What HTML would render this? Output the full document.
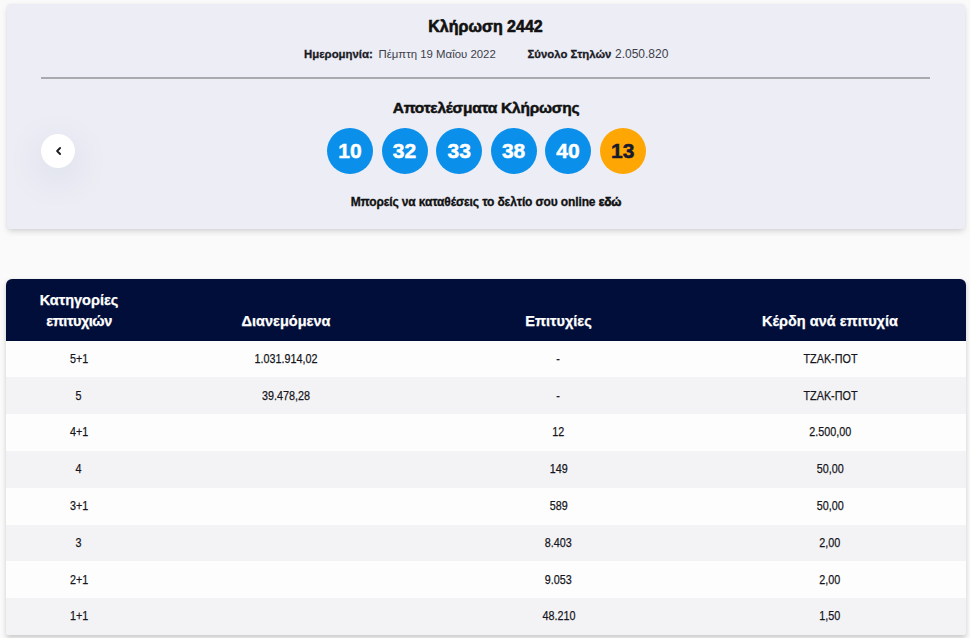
<!DOCTYPE html>
<html><head><meta charset="utf-8">
<style>
html,body{margin:0;padding:0;}
body{width:970px;height:638px;overflow:hidden;background:#fafafa;position:relative;font-family:"Liberation Sans",sans-serif;color:#1a1a2a;}
.abs{position:absolute;white-space:nowrap;}
.card{position:absolute;left:7px;top:4px;width:957.5px;height:225px;background:#ecedf5;border-radius:3px;box-shadow:0 3px 6px -1px rgba(0,0,0,0.17),0 0 3px rgba(0,0,0,0.04);}
.c{text-align:center;}
.title{left:0;width:971px;top:16.8px;font-size:16px;line-height:20px;font-weight:bold;color:#111;-webkit-text-stroke:0.6px #111;}
.sub{top:47.2px;font-size:11.4px;line-height:14px;color:#3e3e4a;}
.sub.b{font-weight:bold;color:#1a1a26;-webkit-text-stroke:0.3px #1a1a26;}
.hr{position:absolute;left:41px;top:77px;width:889px;height:1.5px;background:#a9aab0;}
.res{left:0;width:972px;top:99.4px;font-size:15.5px;line-height:18px;font-weight:bold;color:#111;letter-spacing:-0.24px;-webkit-text-stroke:0.5px #111;}
.ball{position:absolute;top:127.6px;width:46px;height:46px;border-radius:50%;background:#0a8fea;}
.ball span{position:absolute;left:0;width:46px;top:0.7px;color:#fff;font-weight:bold;font-size:21px;line-height:46px;text-align:center;-webkit-text-stroke:0.5px #fff;}
.ball.o{background:#fea603;}
.ball.o span{color:#161a2e;-webkit-text-stroke:0.5px #161a2e;}
.note{left:0;width:972px;top:194.9px;font-size:12px;line-height:14px;font-weight:bold;color:#111;letter-spacing:-0.13px;-webkit-text-stroke:0.3px #111;}
.btn{position:absolute;left:41px;top:134px;width:34px;height:34px;border-radius:50%;background:#fff;box-shadow:0 10px 40px rgba(30,40,80,0.11);}
.btn svg{position:absolute;left:0;top:0;}
.table{position:absolute;left:6px;top:279px;width:960px;height:355.9px;border-radius:6px 6px 3px 3px;overflow:hidden;box-shadow:0 2.5px 5px rgba(0,0,0,0.19);background:#fdfdfd;}
.thead{position:absolute;left:0;top:0;width:100%;height:61.5px;background:#020e3a;}
.th{position:absolute;color:#fff;font-weight:bold;font-size:14.5px;line-height:21.6px;text-align:center;white-space:nowrap;-webkit-text-stroke:0.25px #fff;}
.row{position:absolute;left:0;width:100%;height:36.8px;}
.row.alt{background:#f3f3f6;}
.td{position:absolute;top:0.4px;font-size:13px;line-height:36.6px;text-align:center;color:#151520;-webkit-text-stroke:0.25px #151520;}
.td span{display:inline-block;transform:scaleX(0.83);}
.c1{left:0;width:146px;}
.c2{left:146px;width:268px;}
.c3{left:414px;width:277px;}
.c4{left:690px;width:268px;}
</style></head>
<body>
<div class="card"></div>
<div class="abs c title">Κλήρωση 2442</div>
<div class="abs sub b" style="left:304px;">Ημερομηνία:</div>
<div class="abs sub" style="left:378.5px;">Πέμπτη 19 Μαΐου 2022</div>
<div class="abs sub b" style="left:527.5px;">Σύνολο Στηλών</div>
<div class="abs sub" style="left:615px;font-size:12px;">2.050.820</div>
<div class="hr"></div>
<div class="abs c res">Αποτελέσματα Κλήρωσης</div>
<div class="ball" style="left:327px;"><span>10</span></div>
<div class="ball" style="left:381.5px;"><span>32</span></div>
<div class="ball" style="left:436.3px;"><span>33</span></div>
<div class="ball" style="left:490.6px;"><span>38</span></div>
<div class="ball" style="left:545px;"><span>40</span></div>
<div class="ball o" style="left:599.8px;"><span>13</span></div>
<div class="abs c note">Μπορείς να καταθέσεις το δελτίο σου online <span style="-webkit-text-stroke:0.6px #111">εδώ</span></div>
<div class="btn"><svg width="34" height="34" viewBox="0 0 34 34"><path d="M19.1 14 L16.1 17 L19.1 20" fill="none" stroke="#1a1a22" stroke-width="1.8" stroke-linecap="round" stroke-linejoin="round"/></svg></div>

<div class="table">
  <div class="thead">
    <div class="th c1" style="top:10.5px;">Κατηγορίες<br><span style="letter-spacing:-0.45px">επιτυχιών</span></div>
    <div class="th c2" style="top:31.7px;">Διανεμόμενα</div>
    <div class="th c3" style="top:31.7px;">Επιτυχίες</div>
    <div class="th c4" style="top:31.7px;">Κέρδη ανά επιτυχία</div>
  </div>
  <div class="row" style="top:61.5px;"><div class="td c1"><span>5+1</span></div><div class="td c2"><span>1.031.914,02</span></div><div class="td c3"><span>-</span></div><div class="td c4"><span>ΤΖΑΚ-ΠΟΤ</span></div></div>
  <div class="row alt" style="top:98.3px;"><div class="td c1"><span>5</span></div><div class="td c2"><span>39.478,28</span></div><div class="td c3"><span>-</span></div><div class="td c4"><span>ΤΖΑΚ-ΠΟΤ</span></div></div>
  <div class="row" style="top:135.1px;"><div class="td c1"><span>4+1</span></div><div class="td c3"><span>12</span></div><div class="td c4"><span>2.500,00</span></div></div>
  <div class="row alt" style="top:171.9px;"><div class="td c1"><span>4</span></div><div class="td c3"><span>149</span></div><div class="td c4"><span>50,00</span></div></div>
  <div class="row" style="top:208.7px;"><div class="td c1"><span>3+1</span></div><div class="td c3"><span>589</span></div><div class="td c4"><span>50,00</span></div></div>
  <div class="row alt" style="top:245.5px;"><div class="td c1"><span>3</span></div><div class="td c3"><span>8.403</span></div><div class="td c4"><span>2,00</span></div></div>
  <div class="row" style="top:282.3px;"><div class="td c1"><span>2+1</span></div><div class="td c3"><span>9.053</span></div><div class="td c4"><span>2,00</span></div></div>
  <div class="row alt" style="top:319.1px;"><div class="td c1"><span>1+1</span></div><div class="td c3"><span>48.210</span></div><div class="td c4"><span>1,50</span></div></div>
</div>
</body></html>
